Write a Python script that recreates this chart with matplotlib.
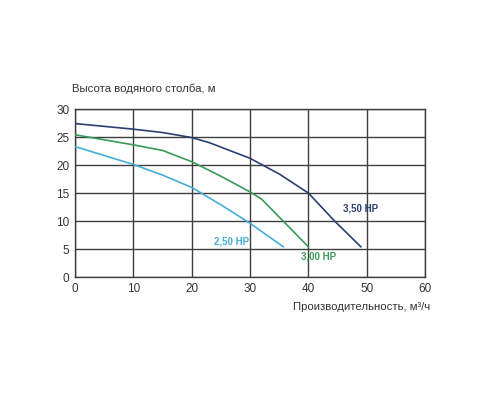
import matplotlib
matplotlib.use('Agg')
import matplotlib.pyplot as plt

plt.rcParams['font.family'] = ['Liberation Sans', 'DejaVu Sans']

# flow (m3/h) and head (m)
q_350 = [0, 10, 15, 20, 23, 30, 35, 40, 44.5, 49]
h_350 = [27.4, 26.4, 25.8, 24.9, 24.0, 21.2, 18.4, 15.0, 10.0, 5.4]

q_300 = [0, 10, 15, 20, 25, 30, 32, 40]
h_300 = [25.4, 23.6, 22.6, 20.6, 18.0, 15.2, 13.9, 5.4]

q_250 = [0, 10, 15, 20, 25, 30, 35.7]
h_250 = [23.3, 20.1, 18.2, 16.0, 12.9, 9.6, 5.4]

labels = ['3,50 HP', '3,00 HP', '2,50 HP']
label_pos = [(48.9, 12.3), (41.7, 3.6), (26.9, 6.4)]
colors = ['#2b3f72', '#3a9a5a', '#45aed6']

x_ticks = [0, 10, 20, 30, 40, 50, 60]
y_ticks = [0, 5, 10, 15, 20, 25, 30]

fig = plt.figure(figsize=(5, 4), dpi=100)
ax = fig.add_axes([0.15, 0.3075, 0.70, 0.42])

for q, h, c in zip([q_350, q_300, q_250], [h_350, h_300, h_250], colors):
    ax.plot(q, h, color=c, lw=1.2, zorder=3)

for (lx, ly), txt, c in zip(label_pos, labels, colors):
    ax.text(lx, ly, txt, color=c, fontsize=7, fontweight='bold',
            ha='center', va='center')

ax.set_xlim(0, 60)
ax.set_ylim(0, 30)
ax.set_xticks(x_ticks)
ax.set_yticks(y_ticks)
ax.grid(True, color='#3e3e3e', lw=1.0)
for s in ax.spines.values():
    s.set_color('#3e3e3e')
    s.set_linewidth(1.0)
ax.tick_params(length=0, labelsize=8.5, colors='#333333', pad=4)

fig.text(0.144, 0.778, 'Высота водяного столба, м', fontsize=8.2,
         color='#333333', ha='left', va='center')
fig.text(0.86, 0.232, 'Производительность, м³/ч', fontsize=8.2,
         color='#333333', ha='right', va='center')

fig.savefig('out.png', dpi=100, facecolor='white')
